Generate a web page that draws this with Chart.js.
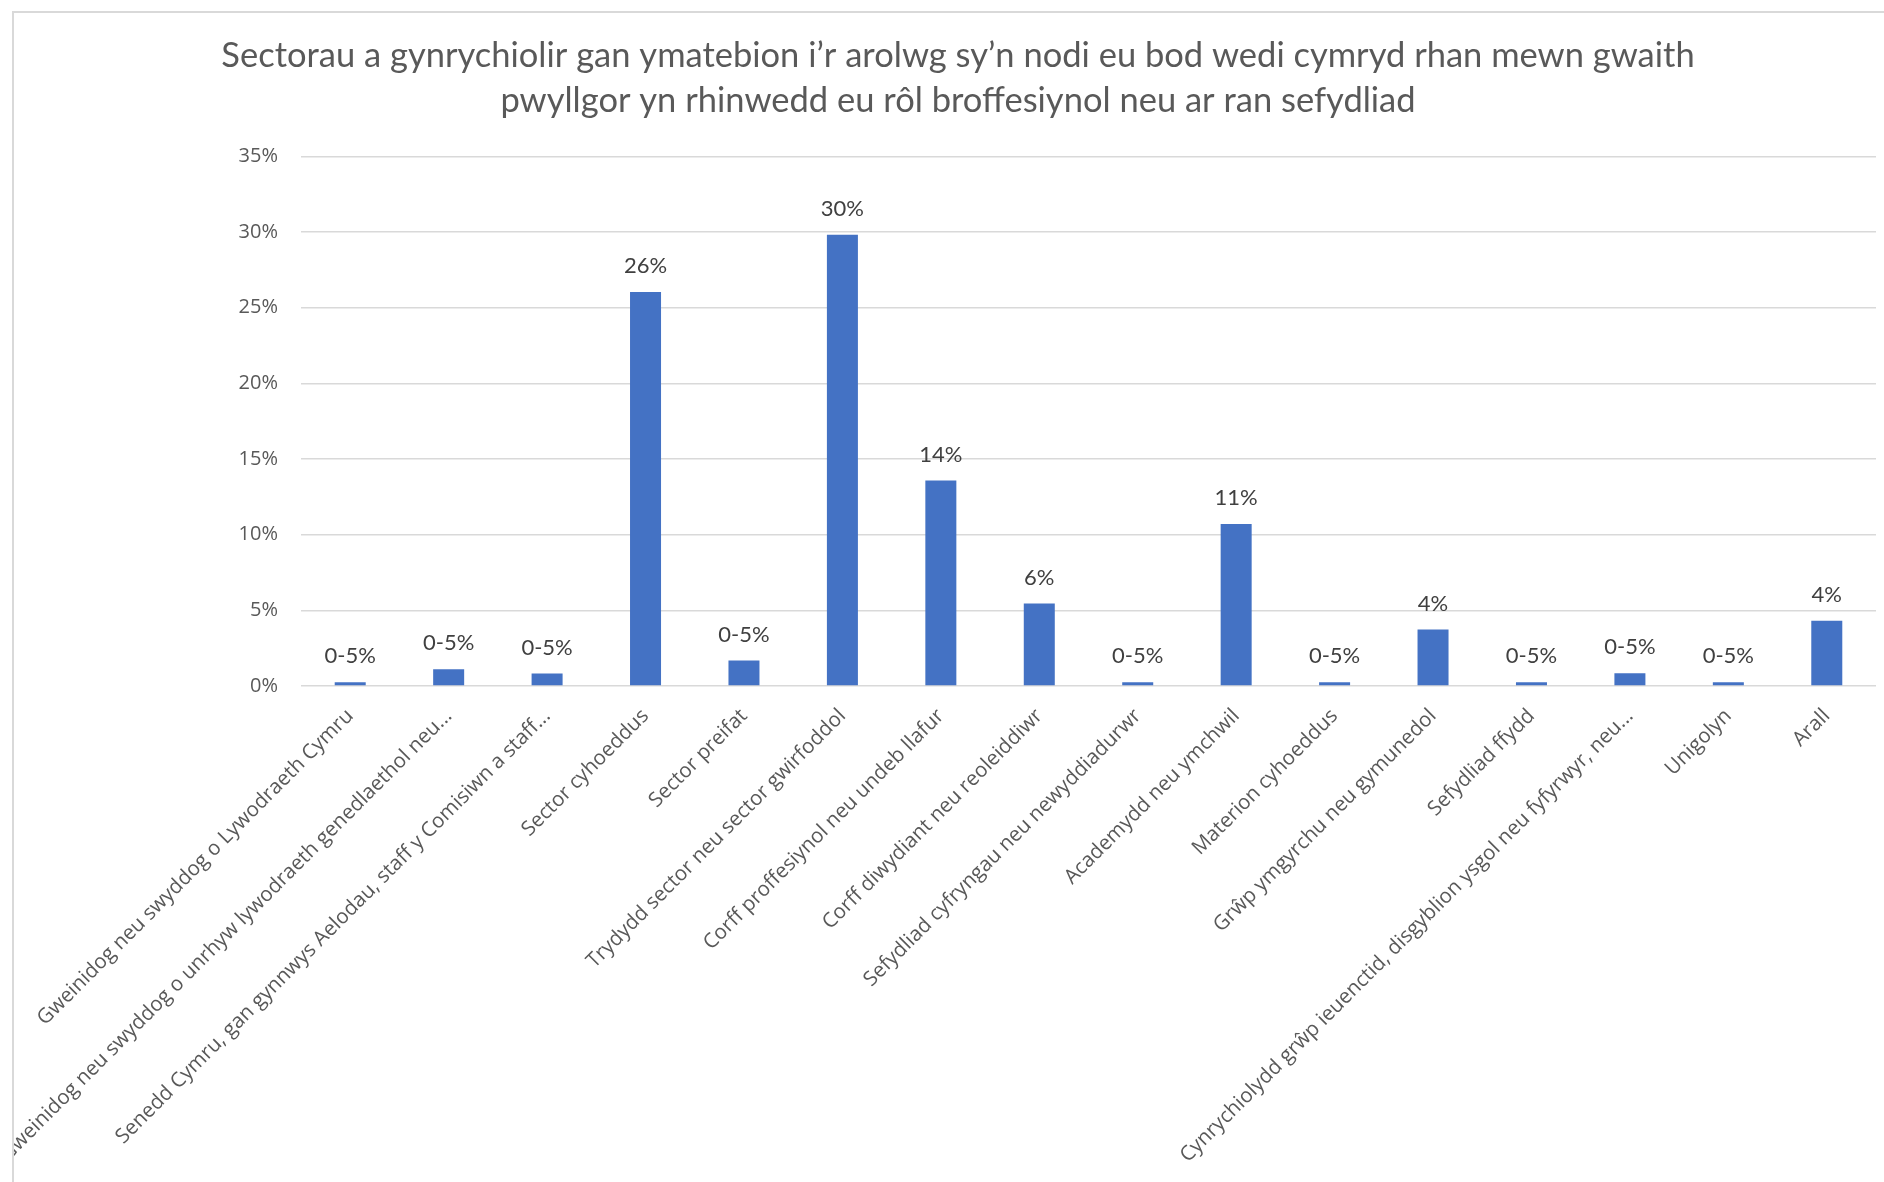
<!DOCTYPE html>
<html>
<head>
<meta charset="utf-8">
<script src="https://cdn.jsdelivr.net/npm/chart.js@4.4.0/dist/chart.umd.min.js"></script>
<style>
  html, body { margin: 0; padding: 0; background: #ffffff; }
  #frame {
    position: absolute; left: 12px; top: 11px;
    width: 1872px; height: 1171px;
    border-left: 2px solid #d9d9d9; border-top: 2px solid #d9d9d9;
    background: #ffffff; overflow: hidden;
  }
  #c { display: block; }
</style>
</head>
<body>
<div id="frame"><canvas id="c" width="1870" height="1169"></canvas></div>
<script>
const titleLines = [
  "Sectorau a gynrychiolir gan ymatebion i\u2019r arolwg sy\u2019n nodi eu bod wedi cymryd rhan mewn gwaith",
  "pwyllgor yn rhinwedd eu r\u00f4l broffesiynol neu ar ran sefydliad"
];

const categories = [
  "Gweinidog neu swyddog o Lywodraeth Cymru",
  "Gweinidog neu swyddog o unrhyw lywodraeth genedlaethol neu...",
  "Senedd Cymru, gan gynnwys Aelodau, staff y Comisiwn a staff...",
  "Sector cyhoeddus",
  "Sector preifat",
  "Trydydd sector neu sector gwirfoddol",
  "Corff proffesiynol neu undeb llafur",
  "Corff diwydiant neu reoleiddiwr",
  "Sefydliad cyfryngau neu newyddiadurwr",
  "Academydd neu ymchwil",
  "Materion cyhoeddus",
  "Gr\u0175p ymgyrchu neu gymunedol",
  "Sefydliad ffydd",
  "Cynrychiolydd gr\u0175p ieuenctid, disgyblion ysgol neu fyfyrwyr, neu...",
  "Unigolyn",
  "Arall"
];

const values = [0.24, 1.1, 0.83, 26.04, 1.69, 29.82, 13.58, 5.45, 0.24, 10.70, 0.24, 3.74, 0.24, 0.84, 0.24, 4.32];

const valueLabels = ["0-5%", "0-5%", "0-5%", "26%", "0-5%", "30%", "14%", "6%", "0-5%", "11%", "0-5%", "4%", "0-5%", "0-5%", "0-5%", "4%"];

const yTicks = [0, 5, 10, 15, 20, 25, 30, 35];

const barLabelPlugin = {
  id: 'barLabels',
  afterDatasetsDraw(chart) {
    const ctx = chart.ctx;
    const meta = chart.getDatasetMeta(0);
    ctx.save();
    ctx.font = '400 22px Lato';
    ctx.fillStyle = '#404040';
    ctx.textAlign = 'center';
    ctx.textBaseline = 'middle';
    meta.data.forEach((bar, i) => {
      ctx.fillText(valueLabels[i], bar.x, bar.y - 26);
    });
    ctx.restore();
  }
};

new Chart(document.getElementById('c'), {
  type: 'bar',
  data: {
    labels: categories,
    datasets: [{
      data: values,
      backgroundColor: '#4472C4',
      borderWidth: 0,
      categoryPercentage: 1.0,
      barPercentage: 0.315
    }]
  },
  options: {
    responsive: false,
    devicePixelRatio: 1,
    animation: false,
    layout: { padding: { left: 26, right: 8, top: 0, bottom: 0 } },
    plugins: {
      legend: { display: false },
      tooltip: { enabled: false },
      title: {
        display: true,
        text: titleLines,
        color: '#595959',
        font: { family: 'Lato', size: 34.5, weight: '400', lineHeight: 1.31 },
        padding: { top: 20, bottom: 33 }
      }
    },
    scales: {
      x: {
        grid: { display: false, drawTicks: false },
        border: { display: false },
        ticks: {
          color: '#595959',
          font: { family: 'Open Sans', size: 20.5 },
          minRotation: 45,
          maxRotation: 45,
          autoSkip: false,
          padding: 18
        },
        afterFit(scale) { scale.height = 496; }
      },
      y: {
        min: 0,
        max: 35,
        afterBuildTicks(scale) { scale.ticks = yTicks.map(v => ({ value: v })); },
        grid: { color: '#d9d9d9', lineWidth: 1.5, drawTicks: false },
        border: { display: false },
        ticks: {
          color: '#595959',
          font: { family: 'Open Sans', size: 20 },
          padding: 23,
          callback: (v) => v + '%'
        },
        afterFit(scale) { scale.width = 261; }
      }
    }
  },
  plugins: [barLabelPlugin]
});
</script>
</body>
</html>
